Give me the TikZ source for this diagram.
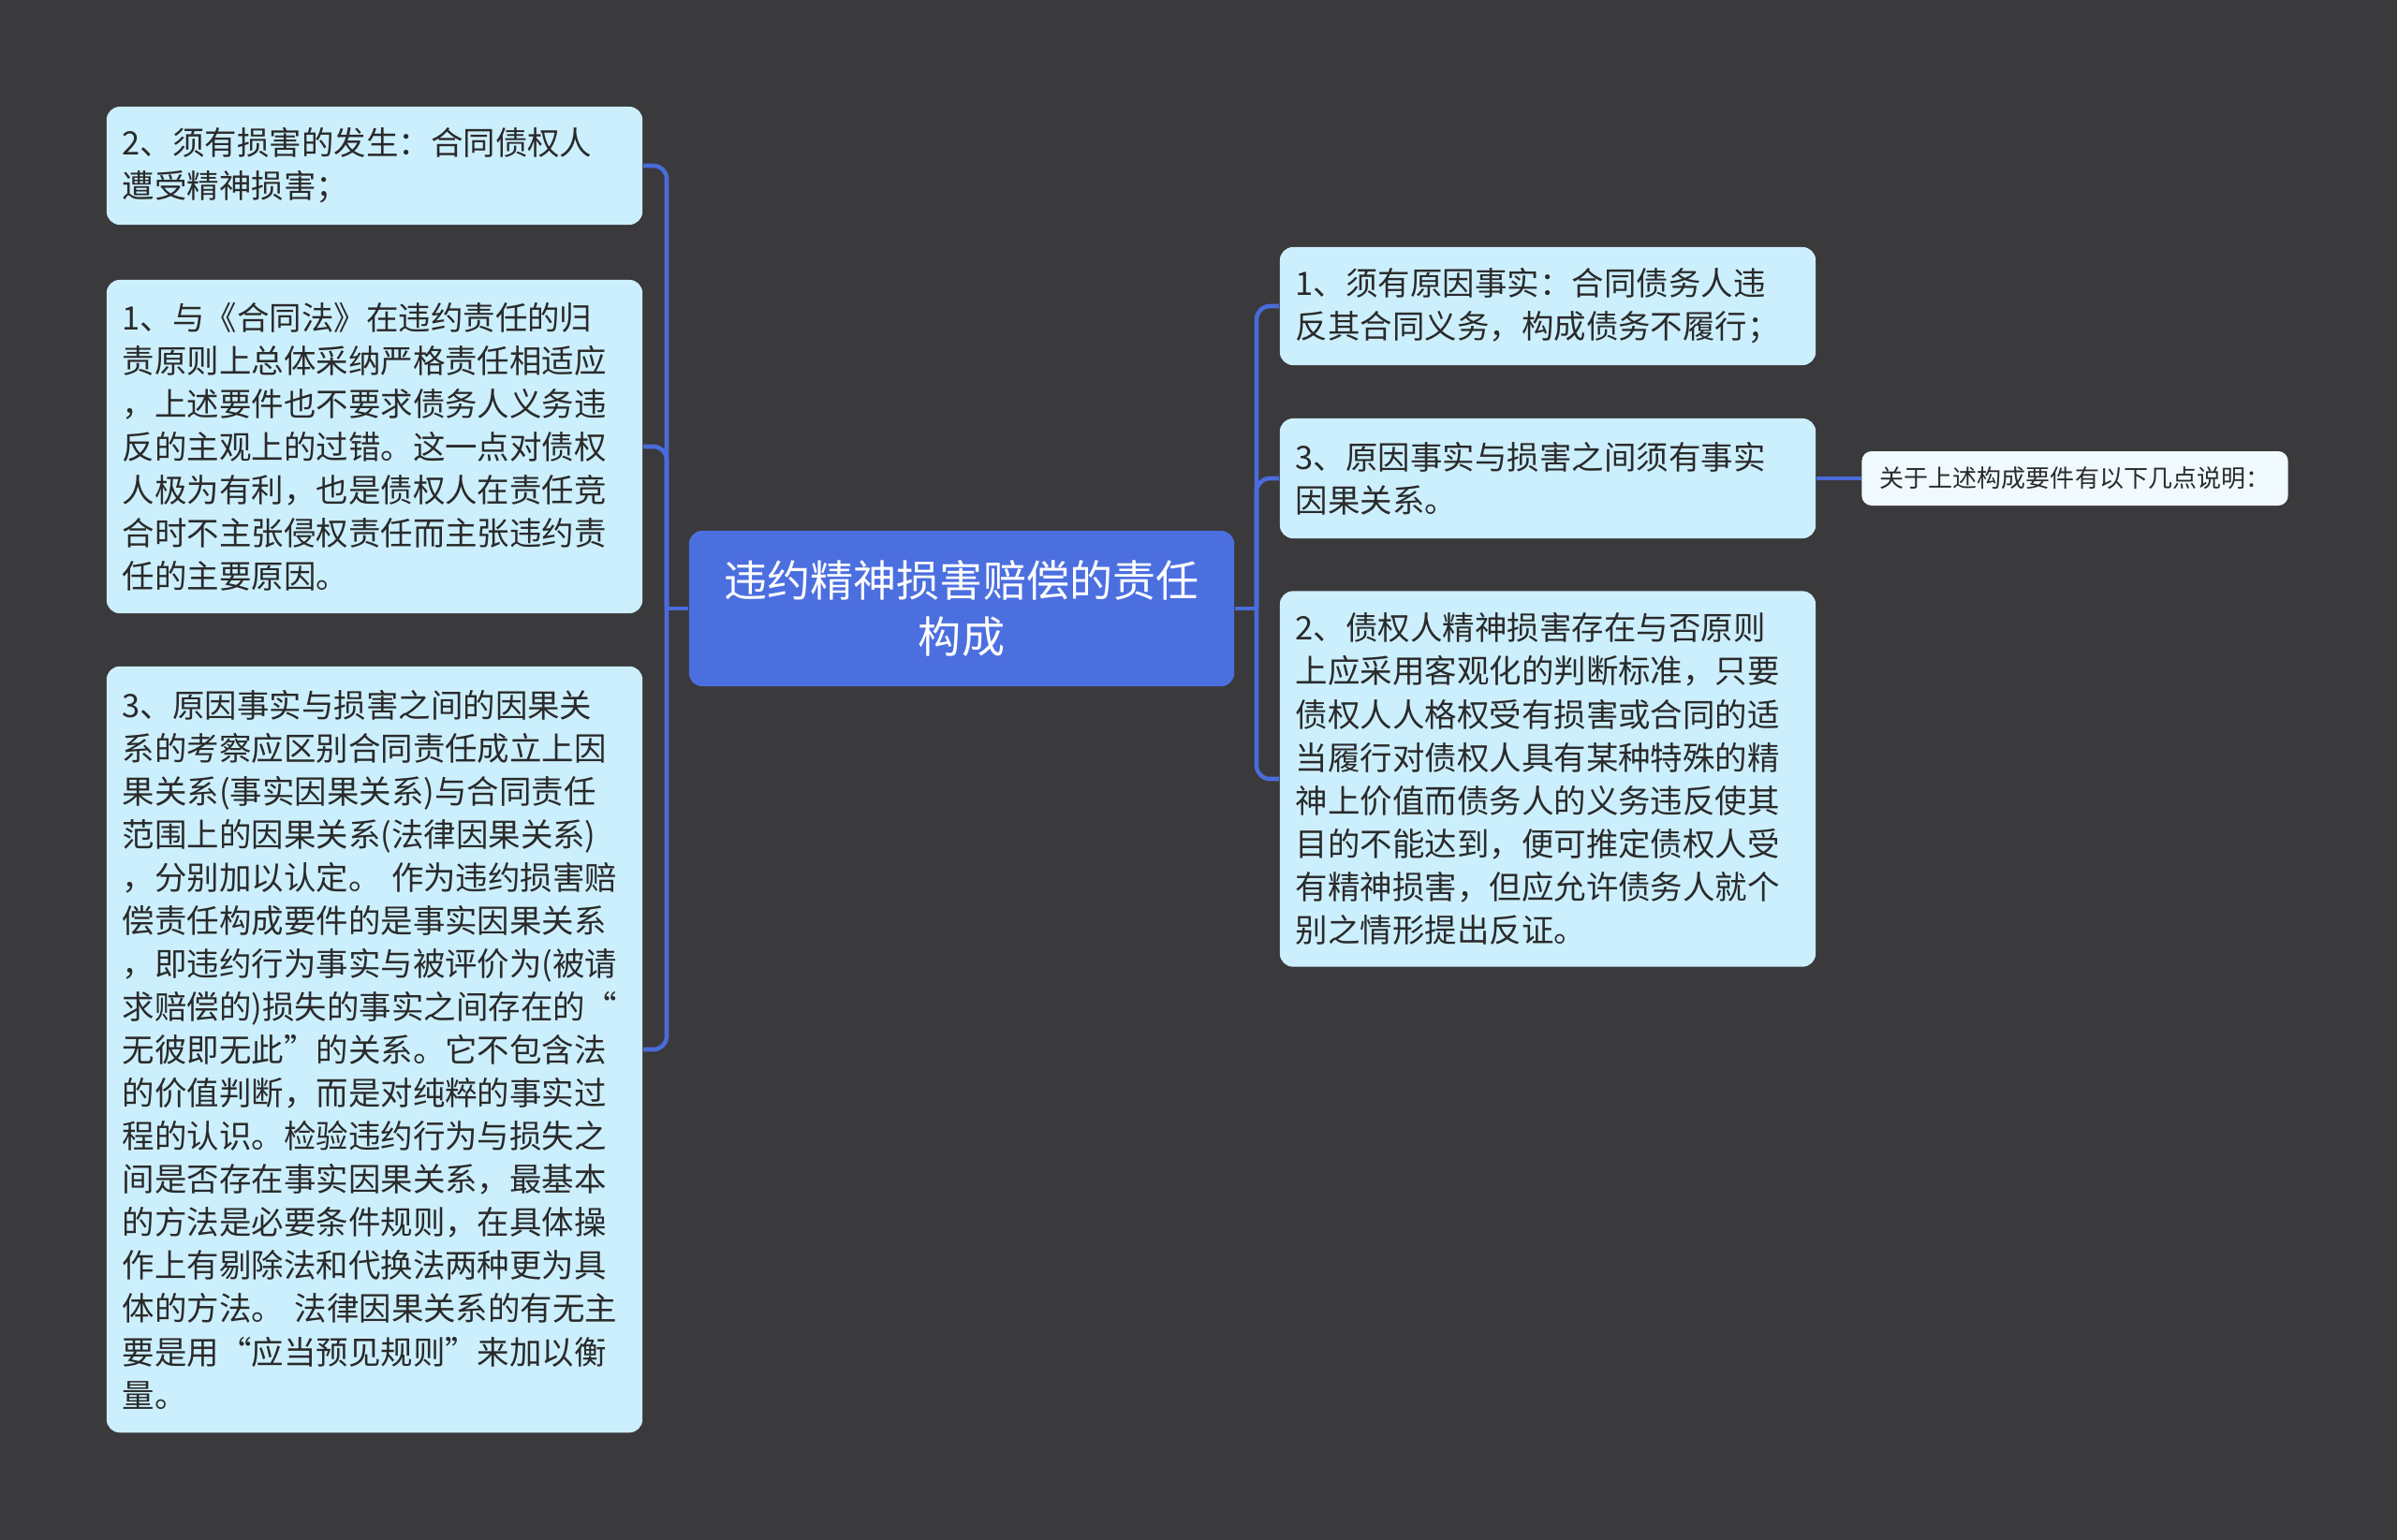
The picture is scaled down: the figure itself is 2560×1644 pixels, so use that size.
\documentclass[tikz,border=0pt]{standalone}
\usepackage{fontspec}
\setmainfont{Noto Sans CJK SC}
\usepackage{tikz}
\usetikzlibrary{positioning}
\definecolor{Board}{HTML}{3A393B}
\definecolor{Leaf}{HTML}{CCEFFD}
\definecolor{HubFill}{HTML}{4C6FE0}
\definecolor{Wire}{HTML}{4A6BDB}
\definecolor{Ink}{HTML}{2A2A2A}
\definecolor{NoteFill}{HTML}{F0FAFF}

\begin{document}
\begin{tikzpicture}[x=0.01cm,y=-0.01cm,
  leaf/.style={fill=Leaf,rounded corners=4pt,text=Ink,align=left,
    text width=5.38cm,inner xsep=0.17cm,inner ysep=0pt,
    font=\fontsize{9.8pt}{13.1pt}\selectfont},
  hub/.style={fill=HubFill,rounded corners=4pt,text=white,align=center,
    minimum width=5.82cm,minimum height=1.66cm,inner sep=0pt,
    font=\fontsize{13.1pt}{17.1pt}\selectfont},
  note/.style={fill=NoteFill,rounded corners=3pt,text=Ink,
    minimum width=4.55cm,minimum height=0.58cm,inner sep=0pt,
    font=\fontsize{7.4pt}{9pt}\selectfont},
  wire/.style={Wire,line width=1.3pt}]
  \useasboundingbox (0,0) rectangle (2560,1644);
  \fill[Board] (-10,-10) rectangle (2570,1654);
  % central topic
  \node[hub] (hub) at (1027,650) {违约精神损害赔偿的责任\\构成};
  % left side
  \node[leaf,minimum height=1.26cm] (l1) at (400,177)
    {2、须有损害的发生：合同债权人\\遭受精神损害；};
  \node[leaf,minimum height=3.56cm] (l2) at (400,477)
    {1、与《合同法》在违约责任的归\\责原则上总体采纳严格责任相适应\\，上述要件也不要求债务人义务违\\反的主观上的过错。这一点对债权\\人极为有利，也是债权人在责任竞\\合时不主张侵权责任而主张违约责\\任的主要原因。};
  \node[leaf,minimum height=8.18cm] (l3) at (400,1121)
    {3、原因事实与损害之间的因果关\\系的考察应区别合同责任成立上因\\果关系(事实因果关系)与合同责任\\范围上的因果关系(法律因果关系)\\，分别加以认定。~作为违约损害赔\\偿责任构成要件的是事实因果关系\\，即违约行为事实与被评价为(被请\\求赔偿的)损失的事实之间存在的“\\无彼即无此”的关系。它不包含法\\的价值判断，而是对纯粹的事实过\\程的认识。检验违约行为与损失之\\间是否存在事实因果关系，最基本\\的方法是必要条件规则，在具体操\\作上有剔除法和代换法两种更为具\\体的方法。~法律因果关系的有无主\\要是用“应当预见规则”来加以衡\\量。};
  % right side
  \node[leaf,minimum height=1.26cm] (r1) at (1653,327)
    {1、须有原因事实：合同债务人违\\反其合同义务，构成债务不履行；};
  \node[leaf,minimum height=1.28cm] (r2) at (1653,511)
    {3、原因事实与损害之间须有事实\\因果关系。};
  \node[leaf,minimum height=4.01cm] (r3) at (1653,832)
    {2、债权人精神损害存在与否原则\\上应采用客观化的判断标准，只要\\债权人人格权受有损害或合同的适\\当履行对债权人具有某种特殊的精\\神上价值而债务人的义务违反使其\\目的不能达到，便可推定债权人受\\有精神损害，但应允许债务人就个\\别之情形提出反证。};
  \node[note] (memo) at (2216,511) {关于上述构成要件有以下几点说明：};
  % connectors
  \coordinate (lspine) at (712,650);
  \coordinate (rspine) at (1342,650);
  \draw[wire] (hub.west) -- (lspine);
  \draw[wire] (hub.east) -- (rspine);
  \foreach \n in {l1,l2,l3}
    \draw[wire,rounded corners=4pt] (lspine) |- (\n.east);
  \foreach \n in {r1,r2,r3}
    \draw[wire,rounded corners=4pt] (rspine) |- (\n.west);
  \draw[wire] (r2.east) -- (memo.west);
\end{tikzpicture}
\end{document}
